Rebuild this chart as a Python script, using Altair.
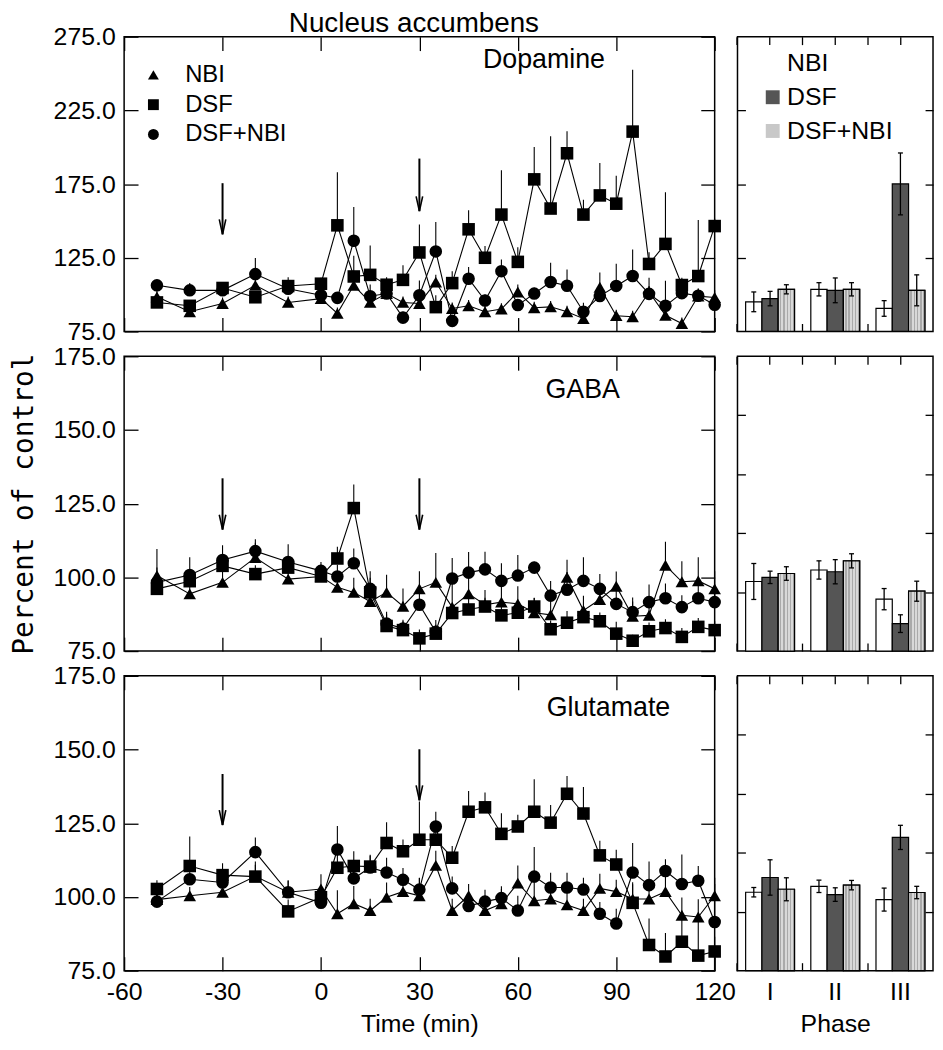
import altair as alt
import pandas as pd

# ---------------- data ----------------
times = [-50, -40, -30, -20, -10, 0, 5, 10, 15, 20, 25, 30, 35, 40, 45, 50, 55, 60,
         65, 70, 75, 80, 85, 90, 95, 100, 105, 110, 115, 120]
series_names = ["NBI", "DSF", "DSF+NBI"]
phases = ["I", "II", "III"]

# Dopamine (percent of control)
da_nbi = [98.5, 88.4, 94.0, 106.3, 94.7, 97.3, 87.3, 106.3, 94.7, 100.7, 94.7, 94.0, 108.5, 90.6, 92.4,
          88.4, 90.2, 101.8, 91.1, 91.7, 88.4, 83.7, 105.0, 85.7, 85.0, 101.8, 86.0, 80.4, 99.0, 98.0]
da_nbi_err = [4, 4, 4, 4, 4, 4, 4, 5, 4, 4, 4, 5, 5, 4, 4, 4, 4, 5, 4, 4, 4, 4, 10, 4, 4, 4, 4, 4, 5, 5]
da_dsf = [94.7, 92.4, 104.5, 98.2, 105.8, 107.4, 147.0, 112.3, 113.4, 106.7, 110.0, 128.6, 91.5, 107.8, 144.3,
          125.0, 154.3, 122.2, 178.2, 158.4, 195.9, 154.3, 167.3, 161.7, 210.6, 120.8, 134.4, 106.5, 112.6, 146.5]
da_dsf_err = [3, 4, 4, 4, 6, 4, 36, 14, 20, 5, 10, 19, 8, 8, 13, 8, 30, 10, 22, 49, 15, 10, 22, 19, 42, 8, 35, 5, 38, 5]
da_mix = [106.3, 102.9, 102.9, 113.9, 104.0, 99.6, 97.8, 136.5, 98.9, 100.7, 84.4, 99.6, 129.3, 82.2, 110.8,
          96.0, 115.9, 92.9, 100.7, 108.6, 106.0, 88.4, 99.0, 105.9, 112.6, 100.5, 92.4, 101.0, 99.2, 93.1]
da_mix_err = [4, 5, 4, 11, 4, 4, 4, 23, 8, 4, 4, 10, 20, 4, 8, 4, 8, 4, 4, 13, 11, 6, 5, 15, 18, 11, 17, 5, 5, 5]

# GABA
gaba_nbi = [100.6, 94.4, 98.3, 106.7, 99.4, 100.3, 96.6, 94.9, 91.8, 94.9, 90.2, 96.1, 98.3, 89.9, 94.4,
            90.7, 91.6, 91.0, 88.0, 87.3, 100.0, 88.8, 92.5, 97.0, 86.8, 87.1, 104.1, 98.5, 98.8, 96.1]
gaba_nbi_err = [9, 6, 5, 5, 5, 4, 5, 5, 5, 6, 6, 6, 10, 8, 6, 5, 6, 6, 5, 5, 6, 5, 5, 5, 5, 5, 8, 7, 8, 6]
gaba_dsf = [96.1, 98.7, 103.9, 101.1, 103.3, 100.3, 106.4, 123.5, 94.9, 83.5, 82.1, 79.3, 80.9, 87.9, 89.1,
            90.1, 87.1, 88.0, 90.1, 82.4, 84.6, 86.5, 85.1, 80.9, 78.5, 81.7, 82.8, 79.8, 83.2, 82.1]
gaba_dsf_err = [3, 3, 3, 3, 3, 3, 4, 8, 5, 4, 3, 3, 3, 3, 4, 3, 3, 4, 3, 3, 4, 3, 3, 4, 2, 3, 3, 3, 3, 3]
gaba_mix = [98.3, 100.8, 105.9, 108.9, 105.2, 102.2, 100.3, 104.8, 96.1, 84.3, 82.6, 90.7, 81.5, 99.6, 101.6,
            102.7, 98.8, 100.6, 103.3, 93.8, 95.8, 98.8, 96.1, 91.0, 88.2, 91.6, 92.9, 89.9, 92.9, 91.6]
gaba_mix_err = [5, 6, 5, 4, 6, 3, 4, 5, 6, 4, 3, 6, 4, 7, 7, 6, 6, 7, 2, 5, 6, 8, 5, 5, 5, 6, 5, 4, 5, 5]

# Glutamate
glu_nbi = [99.1, 100.4, 101.6, 107.0, 101.6, 102.7, 94.3, 97.7, 95.4, 99.9, 101.8, 100.4, 110.7, 95.4, 100.4,
           95.4, 97.7, 104.7, 98.7, 99.3, 97.3, 95.4, 102.9, 101.8, 99.3, 99.3, 101.8, 93.8, 93.2, 100.4]
glu_nbi_err = [4, 3, 4, 5, 4, 5, 8, 6, 4, 5, 3, 6, 5, 4, 4, 5, 5, 6, 6, 5, 4, 4, 5, 4, 5, 5, 5, 6, 6, 4]
glu_dsf = [102.7, 110.5, 107.4, 106.9, 95.1, 99.9, 109.9, 110.5, 110.3, 118.3, 115.5, 119.4, 119.4, 113.3, 128.9,
           130.4, 121.4, 123.9, 128.9, 125.2, 135.0, 128.3, 114.1, 111.0, 98.0, 83.7, 79.8, 84.8, 80.1, 81.5]
glu_dsf_err = [3, 10, 4, 4, 4, 3, 5, 5, 4, 7, 4, 13, 5, 4, 7, 5, 7, 4, 11, 6, 6, 9, 5, 5, 7, 9, 8, 10, 13, 5]
glu_mix = [98.4, 106.0, 104.9, 115.2, 101.6, 98.0, 116.1, 106.3, 110.0, 108.3, 105.8, 102.5, 123.9, 102.9, 96.9,
           98.4, 99.6, 95.4, 106.9, 103.2, 103.2, 102.5, 94.3, 91.0, 108.3, 104.0, 108.8, 104.4, 105.5, 91.5]
glu_mix_err = [3, 4, 4, 5, 4, 3, 8, 5, 4, 5, 4, 4, 5, 4, 4, 4, 4, 5, 10, 5, 5, 4, 4, 5, 10, 8, 4, 10, 5, 15]

# Phase means (bars) and SEM
da_bar = {"NBI": [95.1, 103.6, 90.6], "DSF": [97.3, 102.9, 175.1], "DSF+NBI": [103.6, 103.6, 102.9]}
da_bar_err = {"NBI": [6.7, 4.5, 5.3], "DSF": [4.9, 8.4, 21.0], "DSF+NBI": [3.1, 4.5, 10.5]}
gaba_bar = {"NBI": [98.6, 102.5, 92.6], "DSF": [100.0, 101.9, 84.3], "DSF+NBI": [101.3, 105.6, 95.3]}
gaba_bar_err = {"NBI": [6.1, 3.1, 3.6], "DSF": [2.1, 4.1, 3.0], "DSF+NBI": [2.3, 2.4, 3.4]}
glu_bar = {"NBI": [101.6, 103.6, 99.1], "DSF": [106.6, 100.8, 120.2], "DSF+NBI": [102.6, 104.0, 101.5]}
glu_bar_err = {"NBI": [1.6, 2.1, 3.9], "DSF": [6.0, 2.3, 4.1], "DSF+NBI": [3.9, 1.6, 2.1]}

# injection arrows (time, top value, tip value)
arrow_times = [-30, 30]
da_arrow_top = [175.6, 192.3]
da_arrow_tip = [140.9, 156.6]
gaba_arrow_top = [133.6, 133.6]
gaba_arrow_tip = [116.2, 116.2]
glu_arrow_top = [141.7, 150.1]
glu_arrow_tip = [124.4, 132.8]

main_title = "Nucleus accumbens"

FONT = "Liberation Sans"
LEFT_W, RIGHT_W, H = 595, 197, 297


def series_df(vals, errs):
    rows = []
    for name, vs, es in zip(series_names, vals, errs):
        for t, v, e in zip(times, vs, es):
            rows.append({"t": t, "v": v, "hi": v + e, "s": name})
    return pd.DataFrame(rows)


def arrow_df(tops, tips):
    return pd.DataFrame({"t": arrow_times, "top": tops, "tip": tips})


def text_layer(label, x, y, size):
    return alt.Chart(pd.DataFrame({"label": [label]})).mark_text(
        font=FONT, fontSize=size, align="center", baseline="middle", color="black").encode(
        x=alt.value(x), y=alt.value(y), text="label:N")


def line_panel(df, adf, label, lx, ly, domain, yticks, legend, xlabels, ytitle, extra=None):
    xs = alt.Scale(domain=[-60, 120], nice=False, zero=False)
    ys = alt.Scale(domain=domain, nice=False, zero=False)
    xvals = [-60, -30, 0, 30, 60, 90, 120]
    base = alt.Chart(df)
    inward = dict(offset=-14, tickSize=14, domain=False, grid=False, labelOverlap=False,
                  labelFlush=False, labelBound=False, labelFontSize=25, labelFont=FONT,
                  labelColor="black", tickColor="black", tickWidth=1.3)
    lines = base.mark_line(color="black", strokeWidth=1.1).encode(
        x=alt.X("t:Q", scale=xs, axis=alt.Axis(orient="top", values=xvals, labels=False, title=None, **inward)),
        y=alt.Y("v:Q", scale=ys, axis=alt.Axis(orient="right", values=yticks, labels=False, title=None, **inward)),
        detail="s:N",
    )
    errs = base.mark_rule(color="black", strokeWidth=1.1).encode(
        x=alt.X("t:Q", scale=xs, axis=None),
        y=alt.Y("v:Q", scale=ys, axis=None),
        y2="hi:Q",
    )
    shaft = alt.Chart(adf).mark_rule(color="black", strokeWidth=2).encode(
        x=alt.X("t:Q", scale=xs, axis=None),
        y=alt.Y("top:Q", scale=ys, axis=None),
        y2="tip:Q",
    )
    head = alt.Chart(adf).mark_point(shape="M-0.22,-1L0,0L0.22,-1", size=900, filled=False,
                                     color="black", strokeWidth=1.6, opacity=1).encode(
        x=alt.X("t:Q", scale=xs, axis=None),
        y=alt.Y("tip:Q", scale=ys, axis=None),
    )
    if legend:
        lg = alt.Legend(orient="none", legendX=17.5, legendY=26.5, title=None, padding=0,
                        symbolSize=120, symbolFillColor="black", symbolStrokeColor="black",
                        symbolOpacity=1, labelFont=FONT, labelFontSize=24, labelColor="black",
                        labelOffset=20, rowPadding=6)
    else:
        lg = None
    xaxis = alt.Axis(orient="bottom", values=xvals, labels=xlabels, labelExpr="datum.value + ''",
                     title="Time (min)" if xlabels else None, labelPadding=9,
                     titleFont=FONT, titleFontSize=25, titleFontWeight="normal", titleColor="black",
                     titlePadding=7, **inward)
    yaxis = alt.Axis(orient="left", values=yticks, format=".1f", labelPadding=9, title=ytitle,
                     titleFont="DejaVu Sans Mono", titleFontSize=28, titleFontWeight="normal",
                     titleColor="black", titlePadding=15, **inward)
    pts = base.mark_point(filled=True, color="black", opacity=1, size=160).encode(
        x=alt.X("t:Q", scale=xs, axis=xaxis),
        y=alt.Y("v:Q", scale=ys, axis=yaxis),
        shape=alt.Shape("s:N", scale=alt.Scale(domain=series_names,
                                               range=["triangle-up", "square", "circle"]),
                        legend=lg),
    )
    layers = [lines, errs, shaft, head, pts, text_layer(label, lx, ly, 27)]
    if extra is not None:
        layers.append(extra)
    return alt.layer(*layers).resolve_axis(
        x="independent", y="independent").properties(width=LEFT_W, height=H)


def bar_frames(means, errs):
    rows, caps = [], []
    for name in series_names:
        for ph, m, e in zip(phases, means[name], errs[name]):
            rows.append({"phase": ph, "g": name, "m": m, "lo": m - e, "hi": m + e})
            caps.append({"phase": ph, "g": name, "c": m - e})
            caps.append({"phase": ph, "g": name, "c": m + e})
    return pd.DataFrame(rows), pd.DataFrame(caps)


stops = []
for i in range(5):
    a, b, c = i / 5, (i + 0.55) / 5, (i + 1) / 5
    stops += [{"offset": a, "color": "#d8d8d8"}, {"offset": b, "color": "#d8d8d8"},
              {"offset": b, "color": "#a9a9a9"}, {"offset": c, "color": "#a9a9a9"}]
STRIPES = {"gradient": "linear", "x1": 0, "x2": 1, "y1": 0, "y2": 0, "stops": stops}


def bar_panel(means, errs, domain, yticks, legend, xlabels):
    df, cdf = bar_frames(means, errs)
    xs = alt.Scale(domain=phases, paddingInner=0.25, paddingOuter=0.125)
    xo = alt.XOffset("g:N", scale=alt.Scale(domain=series_names))
    ys = alt.Scale(domain=domain, nice=False, zero=False)
    inward = dict(offset=-8, tickSize=8, domain=False, grid=False, labels=False, title=None,
                  tickColor="black", tickWidth=1.3)
    if legend:
        lg = alt.Legend(orient="none", legendX=23, legendY=14.5, title=None, padding=0,
                        symbolType="square", symbolSize=196, symbolStrokeWidth=0, symbolOpacity=1,
                        labelFont=FONT, labelFontSize=25, labelColor="black", labelOffset=2,
                        rowPadding=8)
    else:
        lg = None
    bars = alt.Chart(df).mark_bar(stroke="black", strokeWidth=1.2).encode(
        x=alt.X("phase:N", scale=xs, axis=alt.Axis(
            orient="bottom", labels=xlabels, ticks=False, domain=False, grid=False, labelAngle=0,
            labelFont=FONT, labelFontSize=25, labelColor="black", labelPadding=9,
            title="Phase" if xlabels else None, titleFont=FONT, titleFontSize=25,
            titleFontWeight="normal", titleColor="black", titlePadding=7)),
        xOffset=xo,
        y=alt.Y("m:Q", scale=ys, axis=alt.Axis(orient="left", values=yticks, **inward)),
        y2=alt.datum(domain[0]),
        fill=alt.Fill("g:N", scale=alt.Scale(domain=series_names,
                                             range=["white", "#555555", "#c8c8c8"]), legend=lg),
    )
    striped = alt.Chart(df).transform_filter(alt.datum.g == "DSF+NBI").mark_bar(
        fill=STRIPES, stroke="black", strokeWidth=1.2).encode(
        x=alt.X("phase:N", scale=xs, axis=alt.Axis(orient="top", **inward)),
        xOffset=xo,
        y=alt.Y("m:Q", scale=ys, axis=alt.Axis(orient="right", values=yticks, **inward)),
        y2=alt.datum(domain[0]),
    )
    ebar = alt.Chart(df).mark_rule(color="black", strokeWidth=1.3).encode(
        x=alt.X("phase:N", scale=xs, axis=alt.Axis(orient="bottom", bandPosition=-0.1667, **inward)),
        xOffset=xo,
        y=alt.Y("lo:Q", scale=ys, axis=None),
        y2="hi:Q",
    )
    caps = alt.Chart(cdf).mark_point(shape="M-1,0L1,0", size=25, filled=False, color="black",
                                     strokeWidth=1.3, opacity=1).encode(
        x=alt.X("phase:N", scale=xs, axis=alt.Axis(orient="top", bandPosition=-0.1667, **inward)),
        xOffset=xo,
        y=alt.Y("c:Q", scale=ys, axis=None),
    )
    return alt.layer(bars, striped, ebar, caps).resolve_axis(
        x="independent", y="independent").properties(width=RIGHT_W, height=H)


da_df = series_df([da_nbi, da_dsf, da_mix], [da_nbi_err, da_dsf_err, da_mix_err])
gaba_df = series_df([gaba_nbi, gaba_dsf, gaba_mix], [gaba_nbi_err, gaba_dsf_err, gaba_mix_err])
glu_df = series_df([glu_nbi, glu_dsf, glu_mix], [glu_nbi_err, glu_dsf_err, glu_mix_err])

top_left = line_panel(da_df, arrow_df(da_arrow_top, da_arrow_tip), "Dopamine", 423, 24,
                      [75, 275], [75, 125, 175, 225, 275], True, False, None,
                      extra=text_layer(main_title, 292, -13, 28))
mid_left = line_panel(gaba_df, arrow_df(gaba_arrow_top, gaba_arrow_tip), "GABA", 462, 34,
                      [75, 175], [75, 100, 125, 150, 175], False, False, "Percent of control")
bot_left = line_panel(glu_df, arrow_df(glu_arrow_top, glu_arrow_tip), "Glutamate", 488, 32,
                      [75, 175], [75, 100, 125, 150, 175], False, True, None)

top_right = bar_panel(da_bar, da_bar_err, [75, 275], [125, 175, 225], True, False)
mid_right = bar_panel(gaba_bar, gaba_bar_err, [75, 175], [95, 115, 135, 155], False, False)
bot_right = bar_panel(glu_bar, glu_bar_err, [75, 175], [95, 115, 135, 155], False, True)

chart = alt.concat(top_left, top_right, mid_left, mid_right, bot_left, bot_right,
                   columns=2, spacing={"row": 25, "column": 23}).properties(
    bounds="flush", padding={"left": 1, "top": -3, "right": 0, "bottom": 0}, background="white"
).resolve_scale(
    shape="independent", fill="independent", x="independent", y="independent"
).resolve_legend(
    shape="independent", fill="independent"
).configure_view(
    stroke="black", strokeWidth=1.5
).configure_axis(
    labelFont=FONT, labelFontSize=24, labelColor="black", tickColor="black", tickWidth=1.3,
    titleFont=FONT, titleFontWeight="normal", titleColor="black"
)

chart.save("out.html", embed_options={"renderer": "svg", "actions": False})
